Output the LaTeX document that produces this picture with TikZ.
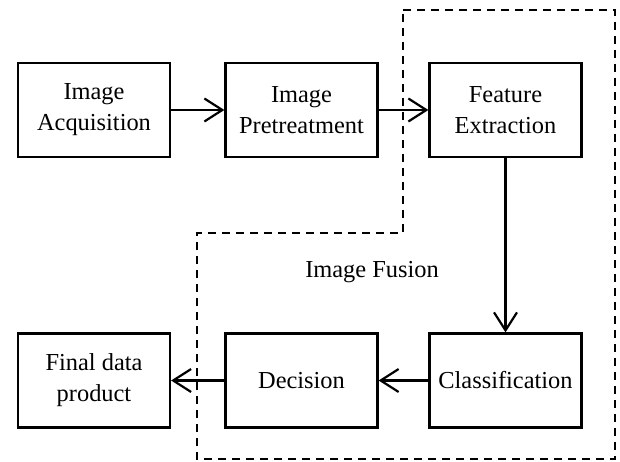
\documentclass[tikz,border=0pt]{standalone}
\usepackage{fontspec}
\setmainfont{Liberation Serif}
\usetikzlibrary{arrows.meta}
\begin{document}
\begin{tikzpicture}[x=0.5pt,y=0.5pt,font=\fontsize{12.2}{15.5}\selectfont,
    block/.style={draw,line width=1.1pt,minimum width=76pt,minimum height=47pt,align=center,inner sep=0pt},
    flow/.style={line width=1.1pt,-{Straight Barb[length=9pt,width=11.5pt,line width=1.1pt]}}]
    \useasboundingbox (0,0) rectangle (620,461);
    % fusion region
    \draw[line width=1.1pt,dash pattern=on 4pt off 3pt] (403,451) -- (615,451) -- (615,2) -- (197,2) -- (197,228) -- (403,228) -- cycle;
    \node (fusion) at (372,189) {Image Fusion};
    % blocks
    \node[block] (acq) at (94,351) {Image\\Acquisition};
    \node[block] (pre) at (301.5,351) {Image\\Pretreatment};
    \node[block] (feat) at (505.5,351) {Feature\\Extraction};
    \node[block] (cls) at (505.5,80.5) {Classification};
    \node[block] (dec) at (301.5,80.5) {Decision};
    \node[block] (fin) at (94,80.5) {Final data\\product};
    % connectors
    \draw[flow] (acq) -- (pre);
    \draw[flow] (pre) -- (feat);
    \draw[flow] (feat) -- (cls);
    \draw[flow] (cls) -- (dec);
    \draw[flow] (dec) -- (fin);
\end{tikzpicture}
\end{document}
